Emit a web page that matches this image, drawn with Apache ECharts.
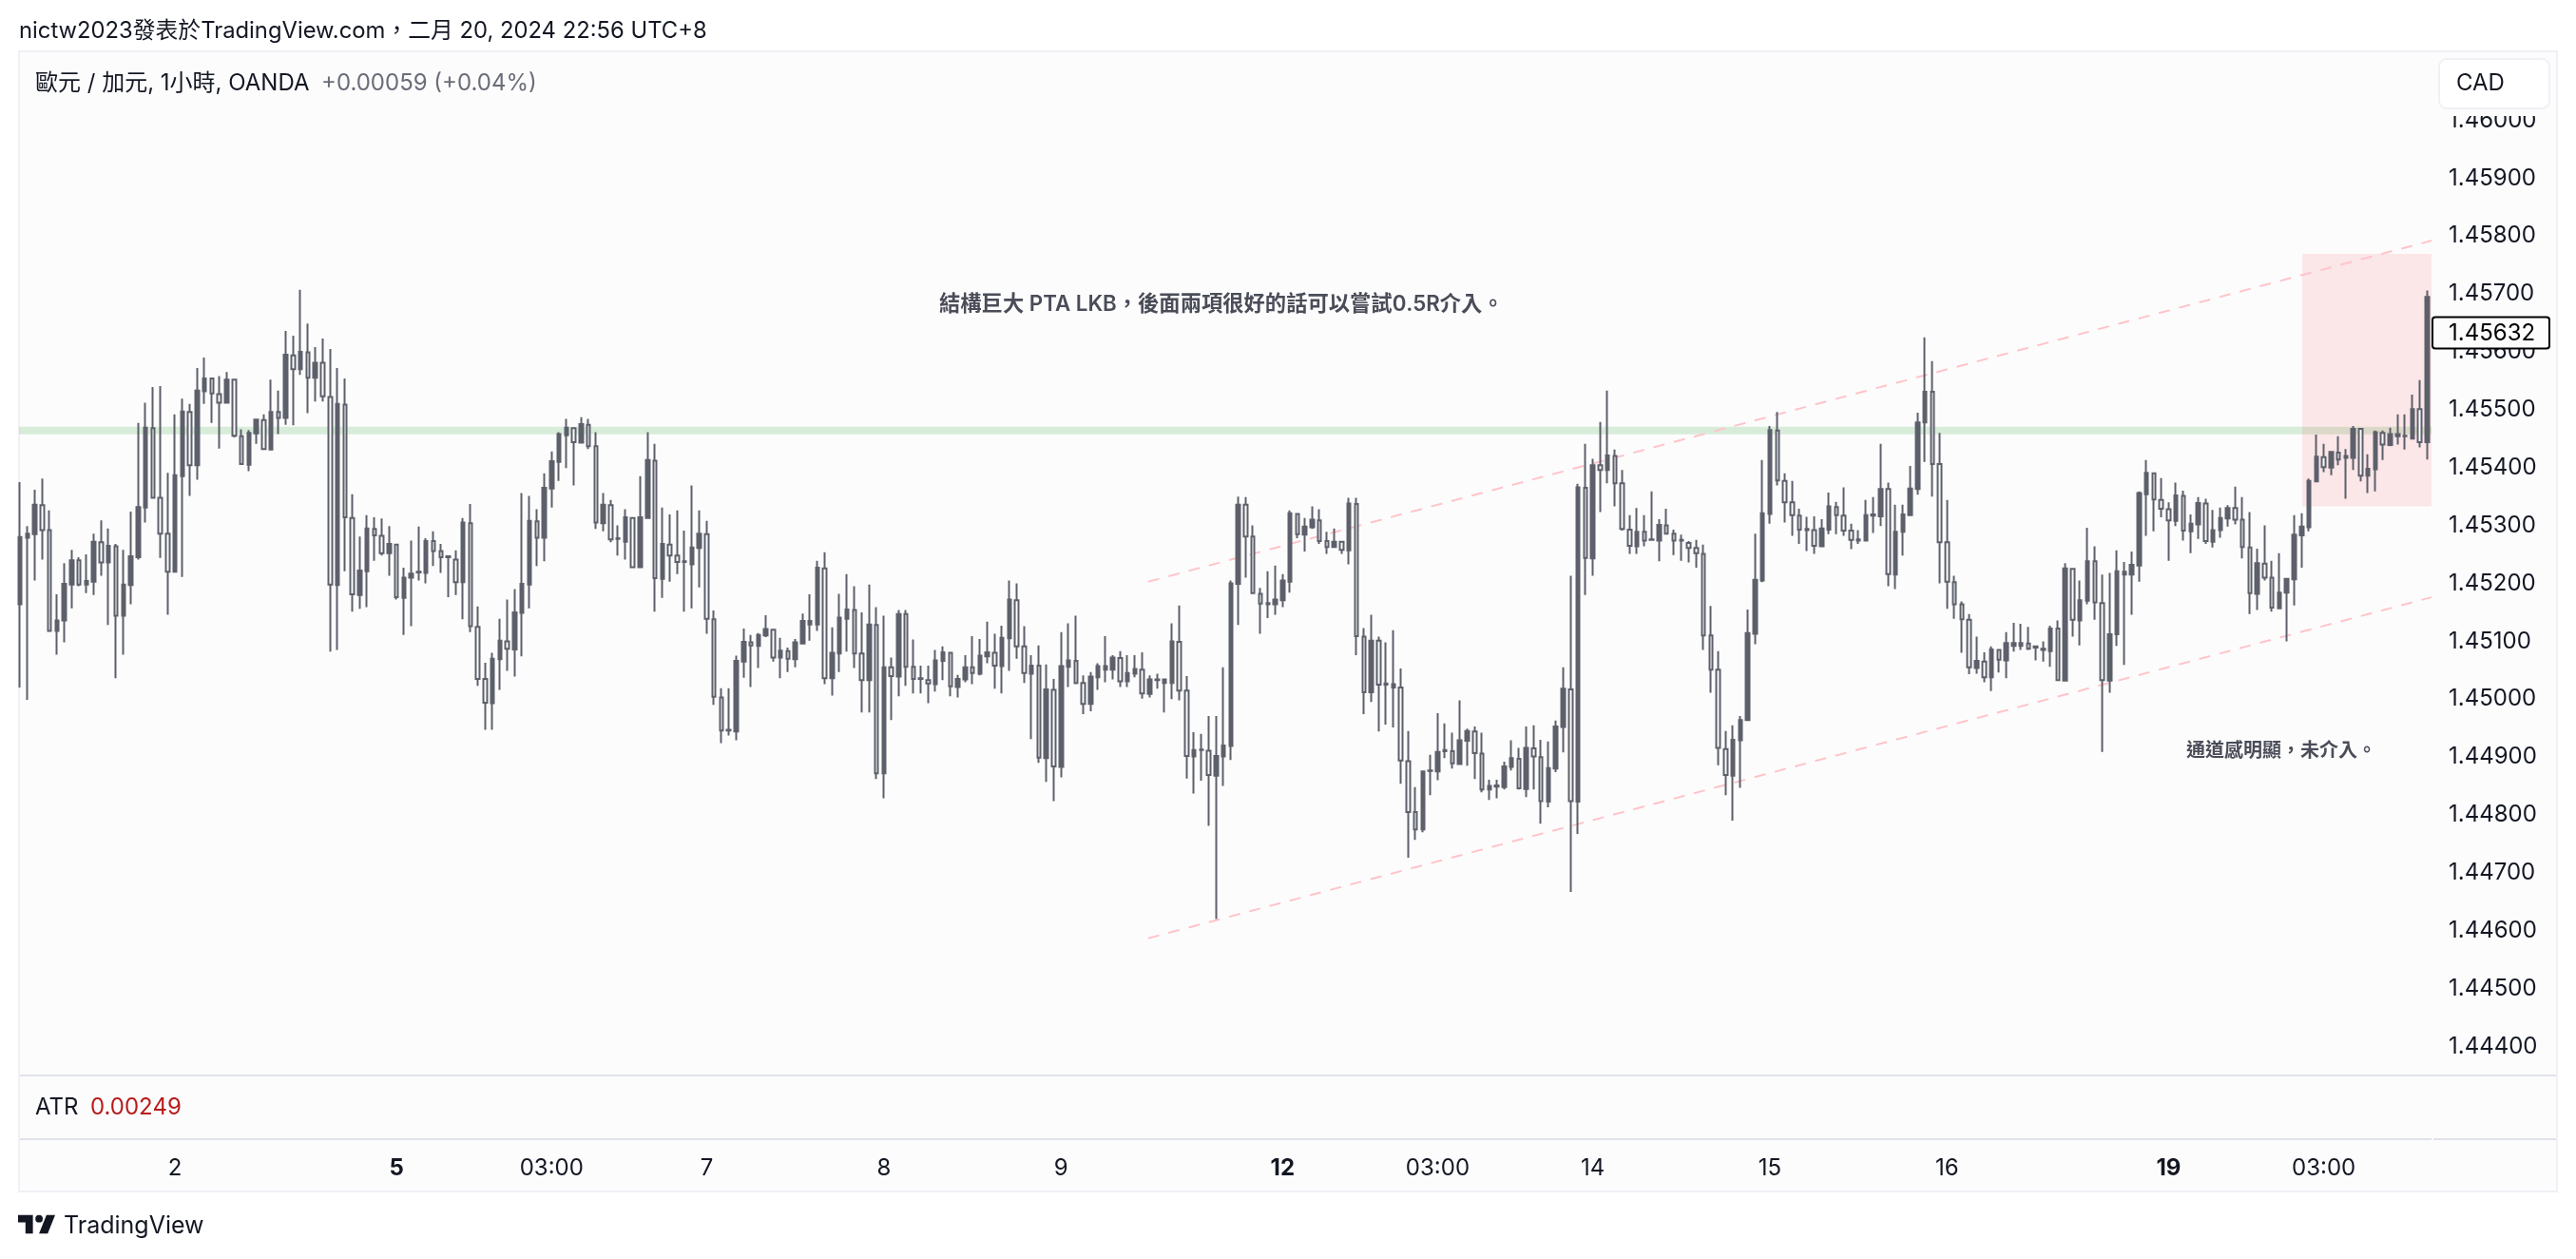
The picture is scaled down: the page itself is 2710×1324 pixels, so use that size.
<!DOCTYPE html>
<html><head><meta charset="utf-8">
<style>html,body{margin:0;padding:0;background:#fff}#c{width:2710px;height:1324px}</style>
<script src="https://cdn.jsdelivr.net/npm/echarts@6/dist/echarts.min.js"></script>
</head><body><div id="c"></div>
<script>
// Prices are in points of 0.00001 CAD
const opens=[145164,145279,145285,145335,145292,145118,145136,145198,145240,145198,
145203,145271,145236,145264,145144,145197,145245,145331,145468,145348,
145286,145220,145385,145496,145404,145532,145554,145527,145512,145552,
145454,145405,145459,145482,145431,145496,145486,145594,145570,145599,
145555,145581,145522,145197,145509,145313,145180,145221,145294,145282,
145252,145267,145175,145210,145219,145218,145273,145256,145245,145241,
145202,145304,145125,145035,144993,145069,145100,145086,145149,145198,
145307,145279,145364,145410,145456,145468,145443,145474,145437,145304,
145335,145277,145272,145313,145228,145313,145412,145208,145267,145248,
145237,145233,145261,145285,145138,145003,144946,144944,145065,145098,
145092,145110,145120,145072,145083,145069,145096,145129,145129,145226,
145036,145079,145139,145154,145079,145033,145128,144872,145055,145039,
145147,145056,145035,145033,145026,145066,145080,145021,145034,145055,
145044,145074,145080,145057,145105,145171,145091,145044,145058,144898,
145016,144883,145056,145066,145028,144992,145038,145051,145051,145071,
145031,145044,145051,145009,145033,145028,145028,145099,145015,144901,
144912,144911,144868,144901,144919,145199,145336,145281,145182,145164,
145164,145171,145203,145320,145284,145297,145309,145273,145263,145272,
145257,145337,145108,145012,145101,145025,145020,145020,144893,144805,
144775,144876,144875,144910,144910,144888,144928,144944,144906,144844,
144849,144848,144883,144897,144845,144915,144900,144823,144880,144952,
145017,144823,145365,145243,145404,145396,145420,145373,145293,145264,
145289,145275,145274,145300,145286,145274,145270,145261,145251,145110,
145051,144914,144868,144929,144964,145113,145205,145320,145464,145377,
145340,145317,145292,145292,145264,145293,145332,145317,145291,145274,
145274,145317,145316,145363,145215,145289,145318,145363,145478,145531,
145406,145271,145202,145164,145137,145054,145065,145038,145085,145067,
145092,145092,145096,145089,145085,145083,145122,145032,145225,145136,
145170,145238,145166,145032,145112,145215,145215,145231,145354,145390,
145344,145328,145308,145351,145290,145302,145338,145272,145292,145312,
145330,145310,145262,145182,145234,145210,145157,145184,145207,145283,
145297,145376,145418,145400,145426,145417,145417,145467,145386,145397,
145460,145439,145454,145454,145450,145501,145444];
const closes=[145280,145286,145336,145292,145118,145136,145199,145240,145198,145204,
145272,145236,145265,145144,145198,145247,145332,145469,145348,145286,
145220,145387,145497,145404,145533,145554,145528,145512,145552,145455,
145406,145460,145483,145432,145496,145486,145595,145570,145600,145555,
145581,145523,145198,145510,145314,145181,145222,145295,145283,145252,
145268,145176,145210,145217,145220,145273,145256,145245,145247,145202,
145305,145126,145035,144994,145070,145101,145087,145150,145199,145308,
145279,145365,145411,145458,145469,145444,145475,145437,145305,145336,
145276,145278,145314,145228,145314,145413,145209,145268,145248,145237,
145238,145262,145286,145139,145004,144946,144947,145066,145099,145093,
145111,145121,145072,145084,145070,145098,145135,145135,145227,145036,
145080,145141,145155,145079,145033,145129,144872,145055,145040,145147,
145056,145035,145036,145027,145067,145081,145022,145035,145055,145045,
145075,145081,145058,145106,145172,145091,145045,145058,144899,145017,
144884,145057,145067,145028,144992,145039,145057,145057,145072,145031,
145045,145052,145010,145034,145034,145034,145100,145015,144902,144912,
144913,144869,144902,144920,145200,145336,145281,145183,145165,145166,
145172,145205,145321,145285,145298,145310,145273,145263,145272,145258,
145338,145109,145012,145101,145025,145027,145026,144894,144805,144775,
144875,144877,144909,144912,144889,144929,144945,144907,144844,144850,
144851,144884,144898,144846,144916,144901,144824,144881,144953,145018,
144824,145366,145244,145404,145396,145421,145373,145294,145265,145289,
145274,145276,145301,145286,145274,145275,145261,145252,145110,145051,
144916,144869,144930,144964,145114,145206,145321,145465,145378,145340,
145318,145293,145294,145265,145295,145333,145318,145291,145275,145276,
145318,145319,145363,145216,145289,145319,145364,145478,145531,145406,
145271,145203,145164,145138,145055,145066,145038,145086,145068,145097,
145097,145097,145087,145091,145087,145122,145033,145226,145137,145171,
145238,145167,145033,145112,145221,145220,145232,145356,145391,145345,
145329,145309,145352,145291,145303,145339,145273,145292,145313,145330,
145310,145263,145183,145235,145210,145158,145184,145208,145284,145298,
145377,145419,145401,145427,145414,145420,145467,145386,145398,145461,
145440,145458,145458,145455,145501,145444,145695];
const lows=[145020,144999,145205,145241,145118,145077,145098,145157,145195,145183,
145180,145213,145128,145036,145077,145164,145241,145305,145348,145244,
145146,145220,145211,145351,145379,145510,145477,145433,145512,145452,
145406,145394,145441,145432,145431,145458,145474,145473,145560,145494,
145514,145514,145082,145085,145221,145151,145156,145159,145239,145248,
145213,145172,145111,145126,145205,145200,145230,145218,145176,145180,
145138,145116,145023,144947,144947,145016,145049,145039,145074,145157,
145230,145238,145331,145377,145399,145369,145443,145432,145294,145290,
145271,145248,145241,145228,145228,145313,145151,145175,145203,145216,
145151,145157,145193,145113,144990,144924,144937,144929,145037,145021,
145054,145107,145065,145036,145047,145055,145096,145101,145118,145026,
145006,145047,145082,145054,144977,144977,144862,144829,144964,145005,
145023,145010,145010,144993,145013,145033,145005,145003,145029,145026,
145041,145062,145018,145010,145049,145070,145028,144931,144890,144857,
144824,144865,145021,145026,144974,144979,145016,145029,145034,145021,
145021,145038,145001,145003,145018,144977,145000,144998,144863,144837,
144859,144781,144620,144850,144895,145128,145210,145183,145113,145140,
145146,145159,145184,145278,145255,145294,145268,145251,145263,145251,
145233,145076,144974,144995,144944,144956,144951,144854,144726,144757,
144770,144834,144860,144898,144880,144888,144885,144862,144839,144826,
144829,144844,144877,144844,144831,144844,144785,144813,144874,144908,
144667,144767,145180,145213,145323,145373,145333,145291,145251,145251,
145264,145275,145238,145286,145249,145239,145236,145227,145085,145011,
144886,144834,144790,144847,144964,145095,145202,145303,145369,145305,
145282,145268,145256,145251,145264,145285,145285,145282,145259,145268,
145274,145287,145299,145195,145190,145248,145318,145353,145410,145350,
145200,145156,145139,145080,145043,145044,145029,145014,145046,145036,
145082,145085,145085,145067,145065,145056,145033,145032,145108,145093,
145164,145137,144909,145011,145092,145059,145146,145203,145282,145290,
145314,145239,145299,145274,145252,145277,145268,145262,145279,145298,
145302,145243,145147,145154,145205,145151,145156,145100,145162,145227,
145290,145376,145392,145387,145404,145346,145396,145376,145356,145359,
145413,145437,145440,145431,145450,145435,145414];
const highs=[145375,145299,145362,145381,145326,145181,145235,145258,145245,145250,
145286,145309,145295,145268,145258,145324,145477,145512,145539,145541,
145391,145492,145519,145510,145572,145590,145555,145558,145565,145552,
145466,145465,145483,145492,145552,145533,145636,145628,145707,145649,
145608,145623,145605,145572,145554,145354,145281,145318,145314,145312,
145299,145268,145227,145274,145298,145278,145290,145268,145247,145257,
145313,145337,145160,145063,145080,145139,145172,145190,145356,145351,
145328,145390,145428,145461,145484,145468,145487,145484,145461,145356,
145344,145300,145328,145314,145385,145461,145441,145331,145319,145326,
145291,145369,145326,145308,145153,145019,145019,145075,145122,145111,
145114,145145,145121,145106,145089,145104,145148,145181,145239,145254,
145124,145182,145216,145195,145150,145198,145159,145144,145072,145154,
145154,145103,145058,145058,145085,145091,145081,145042,145076,145109,
145104,145134,145113,145127,145205,145200,145126,145076,145093,145060,
145035,145116,145131,145144,145041,145047,145062,145109,145076,145083,
145076,145076,145081,145041,145044,145034,145131,145162,145040,144943,
144940,144971,144971,145055,145205,145350,145349,145300,145192,145221,
145231,145216,145326,145321,145313,145333,145328,145289,145295,145273,
145348,145348,145123,145146,145108,145098,145119,145053,144945,144848,
144876,144904,144976,144958,144942,144998,144949,144953,144942,144861,
144861,144892,144929,144916,144953,144955,144930,144927,144963,145055,
145213,145372,145441,145415,145479,145533,145431,145396,145318,145330,
145318,145359,145311,145329,145293,145284,145273,145275,145267,145161,
145083,144945,144955,144971,145155,145286,145413,145472,145496,145390,
145377,145329,145315,145316,145311,145357,145341,145366,145303,145292,
145344,145349,145441,145374,145336,145336,145403,145495,145625,145584,
145460,145344,145213,145169,145147,145108,145081,145091,145086,145116,
145132,145130,145125,145093,145100,145127,145136,145235,145226,145205,
145296,145264,145215,145218,145257,145237,145255,145359,145413,145391,
145382,145340,145374,145360,145319,145349,145346,145327,145331,145335,
145367,145349,145323,145260,145300,145239,145252,145209,145318,145321,
145381,145457,145441,145428,145454,145432,145472,145468,145423,145464,
145464,145469,145492,145492,145526,145551,145706];

const priceTicks=[144400,144500,144600,144700,144800,144900,145000,145100,145200,145300,145400,145500,145600,145700,145800,145900,146000];
const tickIndexes=[21,51,72,93,117,141,171,192,213,237,261,291,312];
const tickLabels=['2','5','03:00','7','8','9','12','03:00','14','15','16','19','03:00'];
const boldTicks=['5','12','19'];
const levelPrice=145464;
const lastPrice=145632;
const upperChannel=[[152.8,145203],[326.6,145792]];
const lowerChannel=[[152.8,144587],[326.6,145176]];
const zoneBox=[[309.1,145769],[326.6,145333]];
const xRange=[-0.129,326.6];
const yRange=[144350,146119];

const FONT="Inter,'Noto Sans CJK TC','Noto Sans',sans-serif";
const INK='#131722', CANDLE='#5d606b', PANEL='#fcfcfd';
const fmt=v=>(v/1e5).toFixed(5);
const candleData=opens.map((o,i)=>[i,o,closes[i],lows[i],highs[i]]);

const chart=echarts.init(document.getElementById('c'),null,{renderer:'canvas',width:2710,height:1324});
chart.setOption({
  animation:false,
  backgroundColor:'#ffffff',
  textStyle:{fontFamily:FONT},
  grid:{left:20,top:54,width:2538,height:1077,containLabel:false},
  xAxis:{type:'value',min:xRange[0],max:xRange[1],
    axisLine:{show:false},axisTick:{show:false},splitLine:{show:false},
    axisLabel:{customValues:tickIndexes,margin:86,fontSize:24,color:INK,fontFamily:FONT,hideOverlap:false,
      formatter:v=>{const s=tickLabels[tickIndexes.indexOf(v)];return boldTicks.includes(s)?'{b|'+s+'}':s;},
      rich:{b:{fontSize:24,fontWeight:700,color:INK,fontFamily:FONT}}}},
  yAxis:{type:'value',position:'right',min:yRange[0],max:yRange[1],
    axisLine:{show:false},axisTick:{show:false},splitLine:{show:false},
    axisLabel:{customValues:priceTicks,margin:18,fontSize:24,color:INK,fontFamily:FONT,formatter:fmt,hideOverlap:false,padding:[3,0,0,0]}},
  series:[
    {type:'line',name:'level',z:1,silent:true,showSymbol:false,symbol:'none',
      data:[[xRange[0],levelPrice],[xRange[1],levelPrice]],
      lineStyle:{color:'rgba(76,175,80,0.2)',width:8},
      markArea:{silent:true,z:2,itemStyle:{color:'rgba(247,82,95,0.13)'},
        data:[[{coord:zoneBox[0]},{coord:zoneBox[1]}]]}},
    {type:'line',name:'upper',z:3,silent:true,showSymbol:false,symbol:'none',data:upperChannel,
      lineStyle:{color:'#ffc4c9',width:2,type:[12,10]}},
    {type:'line',name:'lower',z:3,silent:true,showSymbol:false,symbol:'none',data:lowerChannel,
      lineStyle:{color:'#ffc4c9',width:2,type:[12,10]}},
    {type:'candlestick',name:'EURCAD',z:5,clip:true,barWidth:4,data:candleData,
      itemStyle:{color:CANDLE,color0:PANEL,borderColor:CANDLE,borderColor0:CANDLE,borderWidth:2}}
  ]
});

const lastY=chart.convertToPixel({yAxisIndex:0},lastPrice);
const txt=(text,x,y,o={})=>({type:'text',z:o.z||50,style:{text,x,y:y+1.5,fontSize:o.size||24,fontFamily:FONT,fontWeight:o.weight||400,
  fill:o.color||INK,align:o.align||'left',verticalAlign:'middle'}});
chart.setOption({graphic:{elements:[
  {type:'rect',z:-10,shape:{x:20,y:54,width:2670,height:1199},style:{fill:PANEL,stroke:'#f0f0f5',lineWidth:2}},
  {type:'rect',z:-9,shape:{x:21,y:1130,width:2668,height:2},style:{fill:'#e0e3eb'}},
  {type:'rect',z:-9,shape:{x:21,y:1197,width:2537,height:2},style:{fill:'#e0e3eb'}},
  {type:'rect',z:-9,shape:{x:2560,y:1197,width:129,height:2},style:{fill:'#e0e3eb'}},
  txt('nictw2023發表於TradingView.com，二月 20, 2024 22:56 UTC+8',20,31,{size:23.8}),
  txt('歐元 / 加元, 1小時, OANDA',37,86),
  txt('+0.00059 (+0.04%)',338,86,{color:'#6a6d78'}),
  txt('ATR',37,1163),
  txt('0.00249',95,1163,{color:'#b71c1c'}),
  txt('結構巨大 PTA LKB，後面兩項很好的話可以嘗試0.5R介入。',988,319,{size:22.3,weight:600,color:'#4a4d58'}),
  txt('通道感明顯，未介入。',2300,788,{size:20,weight:600,color:'#4a4d58'}),
  txt('TradingView',67,1288,{size:25}),
  {type:'polygon',z:50,shape:{points:[[34.6,1277.8],[19,1277.8],[19,1285.6],[26.8,1285.6],[26.8,1297.3],[34.6,1297.3]]},style:{fill:INK}},
  {type:'polygon',z:50,shape:{points:[[50.2,1297.3],[41.1,1297.3],[48.9,1277.8],[58,1277.8]]},style:{fill:INK}},
  {type:'circle',z:50,shape:{cx:41.1,cy:1281.7,r:3.9},style:{fill:INK}},
  {type:'rect',z:60,shape:{x:2562,y:56,width:126,height:66},style:{fill:PANEL}},
  {type:'rect',z:61,shape:{x:2566,y:62,width:116,height:52,r:8},style:{fill:'#ffffff',stroke:'#f0f0f5',lineWidth:2}},
  txt('CAD',2584,86,{z:62}),
  {type:'rect',z:60,shape:{x:2559,y:lastY-17,width:123,height:33,r:3},style:{fill:PANEL,stroke:'#000000',lineWidth:2}},
  txt(fmt(lastPrice),2576,lastY-1,{z:62,color:'#000000'})
]}});
</script></body></html>
